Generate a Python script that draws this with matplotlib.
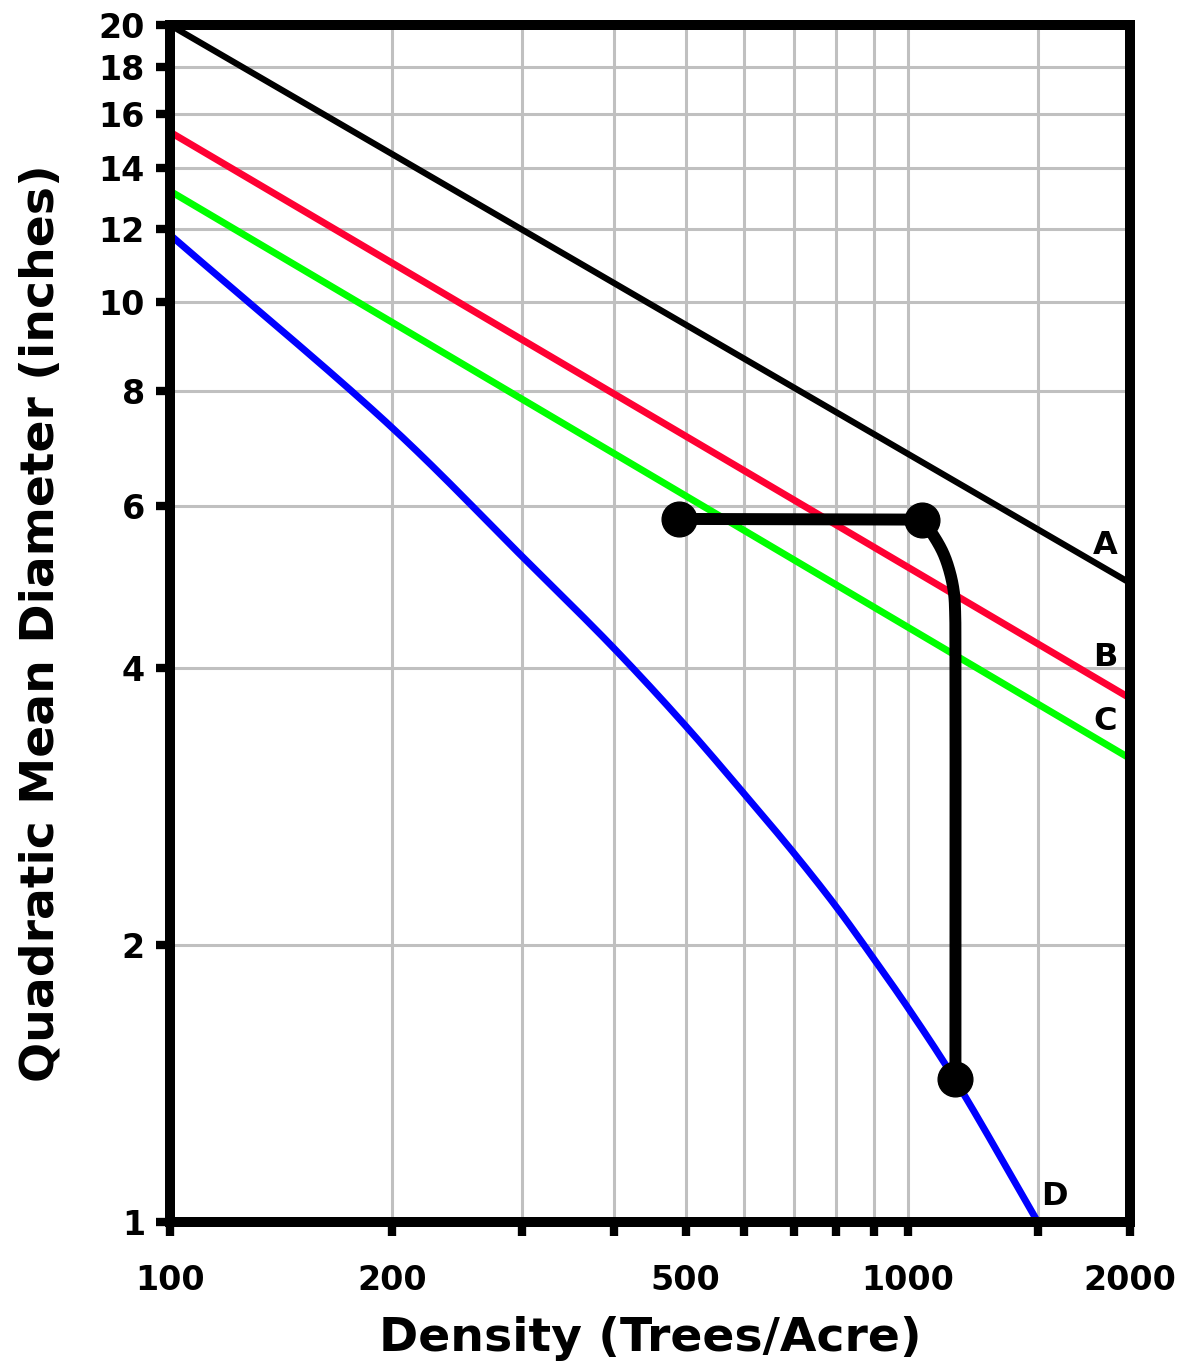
import numpy as np
import matplotlib
matplotlib.use("Agg")
import matplotlib.pyplot as plt
from matplotlib.ticker import FixedLocator, NullLocator, NullFormatter

# Stand density guide lines (trees/acre vs. quadratic mean diameter, inches)
line_a_density = [100, 2000]
line_a_qmd = [20.0, 4.95]

line_b_density = [100, 2000]
line_b_qmd = [15.3, 3.71]

line_c_density = [100, 2000]
line_c_qmd = [13.2, 3.19]

line_d_density = [100, 200, 300, 400, 500, 600, 700, 800, 900, 1000, 1160, 1500]
line_d_qmd = [11.83, 7.30, 5.29, 4.20, 3.46, 2.92, 2.52, 2.20, 1.93, 1.71, 1.425, 1.0]

# Stand trajectory: thinning (horizontal run), then growth down to line D
thin_density = [490, 1044]
thin_qmd = [5.81, 5.80]
growth_density = [1044, 1082, 1117, 1141, 1155, 1159, 1160, 1160]
growth_qmd = [5.80, 5.58, 5.33, 5.07, 4.82, 4.59, 4.2, 1.43]
marker_density = [490, 1044, 1160]
marker_qmd = [5.81, 5.80, 1.43]

line_labels = ["A", "B", "C", "D"]
label_density = [1850, 1850, 1850, 1582]
label_qmd = [5.44, 4.11, 3.50, 1.065]

x_tick_values = [100, 200, 300, 400, 500, 600, 700, 800, 900, 1000, 1500, 2000]
x_tick_labels = ["100", "200", "", "", "500", "", "", "", "", "1000", "", "2000"]
y_tick_values = [1, 2, 4, 6, 8, 10, 12, 14, 16, 18, 20]
y_tick_labels = ["1", "2", "4", "6", "8", "10", "12", "14", "16", "18", "20"]


def smooth_line(ax, xs, ys, n=30):
    """Centripetal Catmull-Rom curve through the given points, in display space."""
    pts = ax.transData.transform(np.column_stack([xs, ys]))
    p = np.vstack([2 * pts[0] - pts[1], pts, 2 * pts[-1] - pts[-2]])
    out = []
    for i in range(1, len(p) - 2):
        p0, p1, p2, p3 = p[i - 1], p[i], p[i + 1], p[i + 2]
        t0 = 0.0
        t1 = t0 + max(np.linalg.norm(p1 - p0), 1e-6) ** 0.5
        t2 = t1 + max(np.linalg.norm(p2 - p1), 1e-6) ** 0.5
        t3 = t2 + max(np.linalg.norm(p3 - p2), 1e-6) ** 0.5
        t = np.linspace(t1, t2, n)[:, None]
        a1 = (t1 - t) / (t1 - t0) * p0 + (t - t0) / (t1 - t0) * p1
        a2 = (t2 - t) / (t2 - t1) * p1 + (t - t1) / (t2 - t1) * p2
        a3 = (t3 - t) / (t3 - t2) * p2 + (t - t2) / (t3 - t2) * p3
        b1 = (t2 - t) / (t2 - t0) * a1 + (t - t0) / (t2 - t0) * a2
        b2 = (t3 - t) / (t3 - t1) * a2 + (t - t1) / (t3 - t1) * a3
        c = (t2 - t) / (t2 - t1) * b1 + (t - t1) / (t2 - t1) * b2
        out.append(c if i == 1 else c[1:])
    curve = np.vstack(out)
    data = ax.transData.inverted().transform(curve)
    return data[:, 0], data[:, 1]


fig = plt.figure(figsize=(11.84, 13.64), dpi=100)
ax = fig.add_axes([170 / 1184, 1 - 1222 / 1364, 960 / 1184, 1197 / 1364])
ax.set_xscale("log")
ax.set_yscale("log")
ax.set_xlim(100, 2000)
ax.set_ylim(1, 20)

grid_kw = dict(color="#c0c0c0", linewidth=2.2, zorder=0)
for xv in x_tick_values[1:-1]:
    ax.axvline(xv, **grid_kw)
for yv in y_tick_values[1:-1]:
    ax.axhline(yv, **grid_kw)

ax.plot(line_a_density, line_a_qmd, color="black", linewidth=4.5, zorder=3,
        solid_capstyle="butt")
ax.plot(line_b_density, line_b_qmd, color="#ff0033", linewidth=5, zorder=3,
        solid_capstyle="butt")
ax.plot(line_c_density, line_c_qmd, color="#00ff00", linewidth=5, zorder=3,
        solid_capstyle="butt")
dx, dy = smooth_line(ax, line_d_density, line_d_qmd)
ax.plot(dx, dy, color="#0000ff", linewidth=5, zorder=3, solid_capstyle="butt")

ax.plot(thin_density, thin_qmd, color="black", linewidth=8.6, zorder=4,
        solid_capstyle="butt")
gx, gy = smooth_line(ax, growth_density, growth_qmd)
ax.plot(gx, gy, color="black", linewidth=8.6, zorder=4,
        solid_joinstyle="round", solid_capstyle="butt")
ax.plot(marker_density, marker_qmd, "o", color="black", markersize=25, zorder=5)

for lab, xd, yd in zip(line_labels, label_density, label_qmd):
    ax.text(xd, yd, lab, ha="center", va="center", fontsize=23,
            fontweight="bold", family="DejaVu Sans", zorder=6)

ax.xaxis.set_major_locator(FixedLocator(x_tick_values))
ax.xaxis.set_minor_locator(NullLocator())
ax.xaxis.set_minor_formatter(NullFormatter())
ax.set_xticklabels(x_tick_labels)
ax.yaxis.set_major_locator(FixedLocator(y_tick_values))
ax.yaxis.set_minor_locator(NullLocator())
ax.yaxis.set_minor_formatter(NullFormatter())
ax.set_yticklabels(y_tick_labels)

ax.tick_params(axis="both", which="major", direction="out", length=10,
               width=6, color="black", labelsize=24)
ax.tick_params(axis="x", pad=20)
ax.tick_params(axis="y", pad=8)
for lbl in ax.get_xticklabels() + ax.get_yticklabels():
    lbl.set_fontweight("bold")
    lbl.set_family("DejaVu Sans")

for sp in ax.spines.values():
    sp.set_linewidth(7.2)
    sp.set_color("black")
    sp.set_zorder(7)

ax.set_xlabel("Density (Trees/Acre)", fontsize=34, fontweight="bold",
              family="DejaVu Sans", labelpad=14)
ax.set_ylabel("Quadratic Mean Diameter (inches)", fontsize=34,
              fontweight="bold", family="DejaVu Sans", labelpad=25)

fig.savefig("out.png", dpi=100, facecolor="white")
